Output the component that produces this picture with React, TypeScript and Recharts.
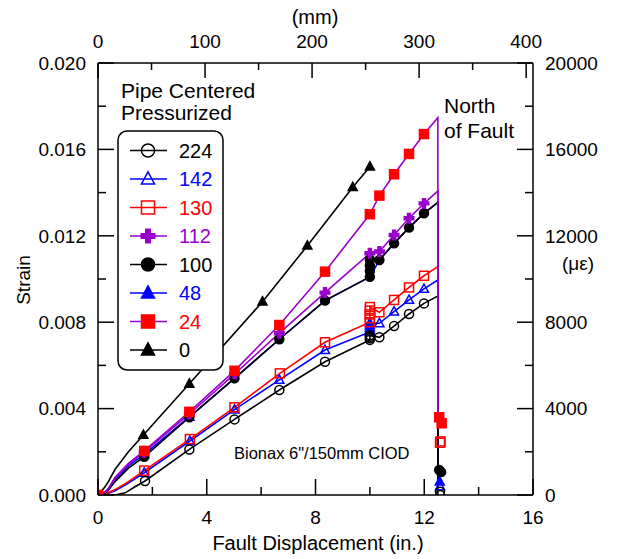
import { ComposedChart, Line, Scatter, XAxis, YAxis, Legend } from "recharts";

const PURPLE = "#9900CC";
const RED = "#FF0000";
const BLUE = "#0000FF";
const BLACK = "#000000";
const FONT = "'Liberation Sans', Arial, sans-serif";

// plot box in page pixels
const P = { left: 98, top: 63, right: 533, bottom: 495 };

// tick values
const inchTicks = [0, 2, 4, 6, 8, 10, 12, 14, 16];
const mmTicks = [0, 50, 100, 150, 200, 250, 300, 350, 400];
const strainTicks = [0, 0.002, 0.004, 0.006, 0.008, 0.01, 0.012, 0.014, 0.016, 0.018, 0.02];
const ueTicks = [0, 2000, 4000, 6000, 8000, 10000, 12000, 14000, 16000, 18000, 20000];

// [fault displacement (in.), microstrain]
const line224 = [[0, 0], [0.63, 0], [1.0, 100], [1.36, 380], [1.73, 650], [3.36, 2110], [5.02, 3500], [6.67, 4860], [8.35, 6170], [10.0, 7180], [10.0, 7400], [10.35, 7300], [10.89, 7820], [11.44, 8380], [11.99, 8870], [12.5, 9210], [12.5, 0]];
const marks224 = [[1.73, 650], [3.36, 2110], [5.02, 3500], [6.67, 4860], [8.35, 6170], [10.0, 7180], [10.0, 7260], [10.0, 7330], [10.0, 7400], [10.35, 7300], [10.89, 7820], [11.44, 8380], [11.99, 8870], [12.58, 150], [12.58, 0]];

const line142 = [[0, 0], [0.26, 30], [0.63, 200], [1.12, 550], [1.7, 1030], [3.38, 2500], [5.02, 3950], [6.67, 5330], [8.35, 6710], [10.0, 7550], [10.0, 7960], [10.35, 7950], [10.89, 8490], [11.44, 9030], [11.99, 9540], [12.5, 9950], [12.5, 400]];
const marks142 = [[1.7, 1030], [3.38, 2500], [5.02, 3950], [6.67, 5330], [8.35, 6710], [10.0, 7550], [10.0, 7650], [10.0, 7750], [10.0, 7850], [10.0, 7960], [10.35, 7950], [10.89, 8490], [11.44, 9030], [11.99, 9540], [12.58, 400]];

const line130 = [[0, 0], [0.26, 50], [0.63, 250], [1.12, 620], [1.7, 1130], [3.38, 2590], [5.02, 4060], [6.69, 5630], [8.35, 7070], [10.0, 8000], [10.0, 8700], [10.35, 8460], [10.89, 9030], [11.44, 9610], [11.99, 10150], [12.5, 10570], [12.5, 2450]];
const marks130 = [[1.7, 1130], [3.38, 2590], [5.02, 4060], [6.69, 5630], [8.35, 7070], [10.0, 8000], [10.0, 8180], [10.0, 8360], [10.0, 8540], [10.0, 8700], [10.35, 8460], [10.89, 9030], [11.44, 9610], [11.99, 10150], [12.58, 2420], [12.6, 2480]];

const line112 = [[0, 0], [0.26, 130], [0.38, 280], [0.63, 780], [1.12, 1420], [1.7, 1980], [3.36, 3750], [5.02, 5600], [6.67, 7490], [8.35, 9370], [10.0, 11190], [10.35, 11270], [10.89, 12040], [11.44, 12810], [11.99, 13500], [12.5, 14070], [12.5, 3700]];
const marks112 = [[1.7, 1980], [3.36, 3750], [5.02, 5600], [6.67, 7490], [8.35, 9370], [10.0, 11190], [10.35, 11270], [10.89, 12040], [11.44, 12810], [11.99, 13500]];

const line100 = [[0, 0], [0.26, 100], [0.38, 220], [0.63, 620], [1.12, 1240], [1.7, 1770], [3.36, 3600], [5.02, 5400], [6.67, 7210], [8.35, 9000], [10.0, 10100], [10.0, 10900], [10.35, 10880], [10.89, 11650], [11.44, 12380], [11.99, 13040], [12.5, 13550], [12.5, 1160]];
const marks100 = [[1.7, 1770], [3.36, 3600], [5.02, 5400], [6.67, 7210], [8.35, 9000], [10.0, 10100], [10.0, 10370], [10.0, 10630], [10.0, 10900], [10.35, 10880], [10.89, 11650], [11.44, 12380], [11.99, 13040], [12.55, 1160], [12.62, 1060]];

const line48 = [[0, 0], [0.26, 120], [0.38, 260], [0.63, 700], [1.12, 1350], [1.7, 1880], [3.36, 3620], [5.02, 5400], [6.67, 7210], [8.35, 9000], [10.0, 10100], [10.35, 10880], [10.89, 11650], [11.44, 12380], [11.99, 13040], [12.5, 13550], [12.5, 600]];
const marks48 = [[1.7, 1880], [3.36, 3620], [12.57, 620]];

const line24 = [[0, 0], [0.26, 150], [0.38, 310], [0.63, 820], [1.12, 1470], [1.7, 2040], [3.36, 3850], [5.02, 5750], [6.67, 7870], [8.35, 10340], [10.0, 13000], [10.35, 13860], [10.89, 14850], [11.44, 15790], [11.99, 16710], [12.5, 17470], [12.5, 3700]];
const marks24 = [[0, 0], [1.7, 2040], [3.36, 3850], [5.02, 5750], [6.67, 7870], [8.35, 10340], [10.0, 13000], [10.35, 13860], [10.89, 14850], [11.44, 15790], [11.99, 16710], [12.55, 3600], [12.64, 3320]];

const line0 = [[0, 0], [0.26, 380], [0.38, 620], [0.63, 1190], [1.12, 2000], [1.67, 2780], [3.36, 5150], [6.05, 8950], [7.7, 11540], [9.37, 14250], [10.0, 15200]];
const marks0 = [[0, 0], [1.67, 2780], [3.36, 5150], [6.05, 8950], [7.7, 11540], [9.37, 14250], [10.0, 15200]];

// rows carry inches and the same displacement in mm (for the top axis)
const toRows = (a: number[][]) => a.map(([x, y]) => ({ x, mm: x * 25.4, y }));

type Kind = "circle" | "triangle" | "square" | "plus";

function Marker({ kind, cx, cy, size, color, filled }: { kind: Kind; cx: number; cy: number; size: number; color: string; filled: boolean }) {
  const h = size / 2;
  const fill = filled ? color : "none";
  const sw = 1.5;
  if (kind === "circle") return <circle cx={cx} cy={cy} r={h} fill={fill} stroke={color} strokeWidth={sw} />;
  if (kind === "square") return <rect x={cx - h} y={cy - h} width={size} height={size} fill={fill} stroke={color} strokeWidth={sw} />;
  if (kind === "triangle") {
    const d = `M${cx},${cy - h * 1.1}L${cx + h},${cy + h * 0.75}L${cx - h},${cy + h * 0.75}Z`;
    return <path d={d} fill={fill} stroke={color} strokeWidth={sw} strokeLinejoin="miter" />;
  }
  const t = size * 0.2;
  const d = `M${cx - t},${cy - h}H${cx + t}V${cy - t}H${cx + h}V${cy + t}H${cx + t}V${cy + h}H${cx - t}V${cy + t}H${cx - h}V${cy - t}H${cx - t}Z`;
  return <path d={d} fill={color} stroke="none" />;
}

const series = [
  { name: "48", line: line48, marks: marks48, lineColor: BLUE, markColor: BLUE, kind: "triangle" as Kind, filled: true },
  { name: "142", line: line142, marks: marks142, lineColor: BLUE, markColor: BLUE, kind: "triangle" as Kind, filled: false },
  { name: "130", line: line130, marks: marks130, lineColor: RED, markColor: RED, kind: "square" as Kind, filled: false },
  { name: "224", line: line224, marks: marks224, lineColor: BLACK, markColor: BLACK, kind: "circle" as Kind, filled: false },
  { name: "100", line: line100, marks: marks100, lineColor: BLACK, markColor: BLACK, kind: "circle" as Kind, filled: true },
  { name: "112", line: line112, marks: marks112, lineColor: PURPLE, markColor: PURPLE, kind: "plus" as Kind, filled: true },
  { name: "0", line: line0, marks: marks0, lineColor: BLACK, markColor: BLACK, kind: "triangle" as Kind, filled: true },
  { name: "24", line: line24, marks: marks24, lineColor: PURPLE, markColor: RED, kind: "square" as Kind, filled: true },
];

const legendRows = [
  { label: "224", text: BLACK, line: BLACK, mark: BLACK, kind: "circle" as Kind, filled: false },
  { label: "142", text: BLUE, line: BLUE, mark: BLUE, kind: "triangle" as Kind, filled: false },
  { label: "130", text: RED, line: RED, mark: RED, kind: "square" as Kind, filled: false },
  { label: "112", text: PURPLE, line: PURPLE, mark: PURPLE, kind: "plus" as Kind, filled: true },
  { label: "100", text: BLACK, line: BLACK, mark: BLACK, kind: "circle" as Kind, filled: true },
  { label: "48", text: BLUE, line: BLUE, mark: BLUE, kind: "triangle" as Kind, filled: true },
  { label: "24", text: RED, line: PURPLE, mark: RED, kind: "square" as Kind, filled: true },
  { label: "0", text: BLACK, line: BLACK, mark: BLACK, kind: "triangle" as Kind, filled: true },
];

const tickText = { fontFamily: FONT, fontSize: 19, fill: "#000" };

const BottomTick = (p: any) => {
  const v = p.payload.value;
  const major = v % 4 === 0;
  const x = p.payload.coordinate ?? p.x;
  return (
    <g>
      <line x1={x} x2={x} y1={P.bottom} y2={P.bottom - (major ? 16 : 8)} stroke="#000" strokeWidth={1.5} />
      {major && <text x={x} y={517} dy="0.36em" textAnchor="middle" {...tickText}>{v}</text>}
    </g>
  );
};

const TopTick = (p: any) => {
  const v = p.payload.value;
  const major = v % 100 === 0;
  const x = p.payload.coordinate ?? p.x;
  return (
    <g>
      <line x1={x} x2={x} y1={P.top} y2={P.top + (major ? 15 : 7)} stroke="#000" strokeWidth={1.5} />
      {major && <text x={x} y={41} dy="0.36em" textAnchor="middle" {...tickText}>{v}</text>}
    </g>
  );
};

const LeftTick = (p: any) => {
  const v = p.payload.value;
  const major = Math.round(v / 0.002) % 2 === 0;
  const y = p.payload.coordinate ?? p.y;
  return (
    <g>
      <line x1={P.left} x2={P.left + (major ? 16 : 8)} y1={y} y2={y} stroke="#000" strokeWidth={1.5} />
      {major && <text x={86} y={y} dy="0.36em" textAnchor="end" {...tickText}>{v.toFixed(3)}</text>}
    </g>
  );
};

const RightTick = (p: any) => {
  const v = p.payload.value;
  const major = v % 4000 === 0;
  const y = p.payload.coordinate ?? p.y;
  return (
    <g>
      <line x1={P.right} x2={P.right - (major ? 16 : 8)} y1={y} y2={y} stroke="#000" strokeWidth={1.5} />
      {major && <text x={545} y={y} dy="0.36em" textAnchor="start" {...tickText}>{v}</text>}
    </g>
  );
};

function LegendBox() {
  return (
    <svg width={624} height={559} style={{ position: "absolute", left: 0, top: 0, overflow: "visible" }}>
      <text x={121} y={90} dy="0.36em" fontFamily={FONT} fontSize={21}>Pipe Centered</text>
      <text x={121} y={112} dy="0.36em" fontFamily={FONT} fontSize={21}>Pressurized</text>
      <rect x={118} y={131} width={105} height={239} rx={9} fill="#fff" stroke="#000" strokeWidth={1.5} />
      {legendRows.map((r, i) => {
        const y = 150.5 + i * 28.5;
        return (
          <g key={r.label}>
            <line x1={130} x2={167} y1={y} y2={y} stroke={r.line} strokeWidth={1.5} />
            <Marker kind={r.kind} cx={148} cy={y} size={r.kind === "plus" ? 15 : 13} color={r.mark} filled={r.filled} />
            <text x={179} y={y} dy="0.36em" fontFamily={FONT} fontSize={20} fill={r.text}>{r.label}</text>
          </g>
        );
      })}
    </svg>
  );
}

export default function App() {
  return (
    <div style={{ width: 624, height: 559, position: "relative", background: "#fff" }}>
      <style>{"body{margin:0}"}</style>
      <ComposedChart width={624} height={559} margin={{ top: 0, right: 0, bottom: 0, left: 0 }} style={{ fontFamily: FONT }}>
        <XAxis xAxisId="in" type="number" dataKey="x" domain={[0, 16]} ticks={inchTicks} interval={0} height={64}
          tickSize={0} tick={BottomTick} axisLine={{ stroke: "#000", strokeWidth: 1.5 }} allowDataOverflow />
        <XAxis xAxisId="mm" orientation="top" type="number" dataKey="mm" domain={[0, 406.4]} ticks={mmTicks} interval={0} height={63}
          tickSize={0} tick={TopTick} axisLine={{ stroke: "#000", strokeWidth: 1.5 }} allowDataOverflow />
        <YAxis yAxisId="ue" orientation="right" type="number" dataKey="y" domain={[0, 20000]} ticks={ueTicks} interval={0} width={91}
          tickSize={0} tick={RightTick} axisLine={{ stroke: "#000", strokeWidth: 1.5 }} allowDataOverflow />
        <YAxis yAxisId="strain" orientation="left" type="number" domain={[0, 0.02]} ticks={strainTicks} interval={0} width={98}
          tickSize={0} tick={LeftTick} axisLine={{ stroke: "#000", strokeWidth: 1.5 }} allowDataOverflow />
        {series.map((s) => [
          <Line key={"l" + s.name} xAxisId="in" yAxisId="ue" data={toRows(s.line)} dataKey="y" type="linear"
            stroke={s.lineColor} strokeWidth={1.6} dot={false} activeDot={false} isAnimationActive={false} />,
          <Scatter key={"m" + s.name} xAxisId="mm" yAxisId="ue" data={toRows(s.marks)} dataKey="y" isAnimationActive={false}
            shape={(p: any) => <Marker kind={s.kind} cx={p.cx} cy={p.cy} size={s.kind === "plus" ? 11 : 9} color={s.markColor} filled={s.filled} />} />,
        ])}
        <Legend layout="vertical" align="center" verticalAlign="middle" content={() => <LegendBox />}
          wrapperStyle={{ position: "absolute", left: 0, top: 0, width: 624, height: 559, pointerEvents: "none" }} />
        <text x={315} y={17} dy="0.36em" textAnchor="middle" fontFamily={FONT} fontSize={20}>(mm)</text>
        <text x={318} y={543} dy="0.36em" textAnchor="middle" fontFamily={FONT} fontSize={20}>Fault Displacement (in.)</text>
        <text x={23} y={280} dy="0.36em" textAnchor="middle" fontFamily={FONT} fontSize={19} transform="rotate(-90 23 280)">Strain</text>
        <text x={578} y={263} dy="0.36em" textAnchor="middle" fontFamily={FONT} fontSize={19}>(με)</text>
        <text x={444} y={105} dy="0.36em" fontFamily={FONT} fontSize={21}>North</text>
        <text x={444} y={130} dy="0.36em" fontFamily={FONT} fontSize={21}>of Fault</text>
        <text x={234} y={453} dy="0.36em" fontFamily={FONT} fontSize={16.5}>Bionax 6"/150mm CIOD</text>
      </ComposedChart>
    </div>
  );
}
